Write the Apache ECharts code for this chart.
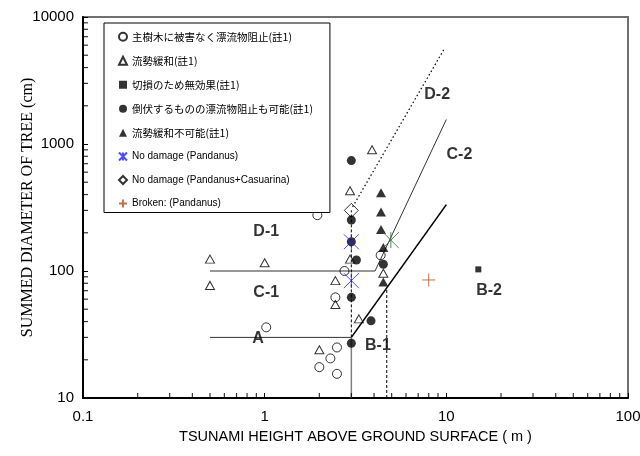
<!DOCTYPE html>
<html>
<head>
<meta charset="utf-8">
<script src="https://cdn.jsdelivr.net/npm/echarts@6/dist/echarts.min.js"></script>
<style>
  html, body { margin: 0; padding: 0; background: #fff; }
  #chart { width: 640px; height: 456px; }
</style>
</head>
<body>
<div id="chart"></div>
<script>
// --- data (x: tsunami height m, y: summed diameter cm) ---
const legendNames = [
  '主樹木に被害なく漂流物阻止(註1)',
  '流勢緩和(註1)',
  '切損のため無効果(註1)',
  '倒伏するものの漂流物阻止も可能(註1)',
  '流勢緩和不可能(註1)',
  'No damage (Pandanus)',
  'No damage (Pandanus+Casuarina)',
  'Broken: (Pandanus)'
];
const openCircle = [[1.02, 36], [2.75, 100], [2.45, 62], [2.5, 25], [2.3, 20.5], [2.0, 17.5], [2.5, 15.5], [1.95, 275], [4.35, 133]];
const openTriangle = [[0.5, 124], [0.5, 77], [1.0, 116], [2.45, 84], [2.45, 54.5], [2.95, 124], [3.3, 42], [2.0, 24], [2.95, 428], [3.9, 900], [4.5, 96]];
const filledSquare = [[15, 103]];
const filledCircle = [[3, 740], [3, 252], [3, 170], [3.2, 122], [3, 62], [3.85, 40.5], [3, 27], [4.5, 113]];
const filledTriangle = [[4.37, 414], [4.37, 292], [4.37, 212], [4.5, 153], [4.5, 82]];
const pandanus = [[3, 170], [3, 84]];
const pandanusCasuarina = [[3, 300]];
const brokenPandanus = [[8, 85]];
const extraStar = [[4.95, 175]];

// zone boundaries
const lineA = [[0.5, 30], [3, 30]];
const lineB = [[3, 30], [10, 333]];
const lineC = [[0.5, 100], [4.05, 100], [10, 1560]];
const lineD = [[3.05, 320], [9.8, 5700]];
const vertSolid = [[3, 10], [3, 30]];
const vertDash3 = [[3, 30], [3, 300]];
const vertDash47 = [[4.7, 10], [4.7, 73]];

const zoneLabels = [
  { name: 'D-2', value: [8.9, 2450] },
  { name: 'C-2', value: [11.8, 830] },
  { name: 'D-1', value: [1.02, 204] },
  { name: 'C-1', value: [1.02, 67] },
  { name: 'A', value: [0.92, 29.5] },
  { name: 'B-1', value: [4.2, 26] },
  { name: 'B-2', value: [17.2, 70] }
];

const xTicks = [0.1, 1, 10, 100];
const yTicks = [10, 100, 1000, 10000];
const xMinor = [0.2, 0.3, 0.4, 0.5, 0.6, 0.7, 0.8, 0.9, 2, 3, 4, 5, 6, 7, 8, 9, 20, 30, 40, 50, 60, 70, 80, 90];
const yMinor = [20, 30, 40, 50, 60, 70, 80, 90, 200, 300, 400, 500, 600, 700, 800, 900, 2000, 3000, 4000, 5000, 6000, 7000, 8000, 9000];

const starPath = 'path://M0,0L10,10M10,0L0,10M5,0L5,10';
const plusPath = 'path://M5,0L5,10M0,5L10,5';

function lineSeries(data, width, color, type) {
  return {
    type: 'line', data: data, symbol: 'none', silent: true, z: 1,
    lineStyle: { width: width, color: color, type: type || 'solid' }
  };
}

const chart = echarts.init(document.getElementById('chart'));
chart.setOption({
  animation: false,
  grid: {
    left: 83, right: 12, top: 17, bottom: 58, outerBoundsMode: 'none',
    show: true, borderColor: '#707070', borderWidth: 2
  },
  legend: {
    data: legendNames,
    orient: 'vertical',
    left: 104, top: 23,
    itemWidth: 8, itemHeight: 8, itemGap: 13.5,
    padding: [8.5, 17, 4, 14],
    borderColor: '#000', borderWidth: 1, backgroundColor: '#fff',
    formatter: function (n) {
      return /^[A-Z]/.test(n) ? '{en|' + n + '}' : '{ja|' + n + '}';
    },
    textStyle: {
      color: '#000',
      rich: {
        ja: { fontSize: 10.5, fontFamily: 'Noto Sans CJK JP', color: '#000' },
        en: { fontSize: 10, fontFamily: 'Liberation Sans', color: '#000' }
      }
    }
  },
  xAxis: {
    type: 'log', logBase: 10, min: xTicks[0], max: xTicks[xTicks.length - 1],
    name: 'TSUNAMI HEIGHT ABOVE GROUND SURFACE ( m )',
    nameLocation: 'middle', nameGap: 31, nameMoveOverlap: false,
    nameTextStyle: { fontSize: 14.5, fontFamily: 'Liberation Sans', color: '#000' },
    axisLine: { lineStyle: { color: '#000', width: 2 } },
    axisTick: { show: true, inside: true, length: 5, lineStyle: { color: '#000', width: 1 } },
    axisLabel: { fontSize: 15, fontFamily: 'Liberation Sans', color: '#000', margin: 11, formatter: v => String(v) },
    splitLine: { show: false }
  },
  yAxis: {
    type: 'log', logBase: 10, min: yTicks[0], max: yTicks[yTicks.length - 1],
    name: 'SUMMED DIAMETER OF TREE (cm)',
    nameLocation: 'middle', nameGap: 47, nameMoveOverlap: false,
    nameTextStyle: { fontSize: 16, fontFamily: 'Liberation Serif', color: '#000' },
    axisLine: { lineStyle: { color: '#000', width: 2 } },
    axisTick: { show: true, inside: true, length: 5, lineStyle: { color: '#000', width: 1 } },
    axisLabel: { fontSize: 15, fontFamily: 'Liberation Sans', color: '#000', margin: 9, formatter: v => String(v) },
    splitLine: { show: false }
  },
  series: [
    lineSeries(lineA, 1, '#333'),
    lineSeries(lineC, 1, '#333'),
    lineSeries(lineB, 1.6, '#000'),
    lineSeries(lineD, 1.2, '#000', [1.5, 2.5]),
    lineSeries(vertSolid, 1.5, '#808080'),
    lineSeries(vertDash3, 1, '#000', [3, 2]),
    lineSeries(vertDash47, 1, '#000', [3, 2]),
    // minor log ticks, pointing inward
    {
      type: 'scatter', silent: true, clip: false, z: 5, symbol: 'rect', symbolSize: [1.2, 5], symbolOffset: [0, -2.5],
      data: xMinor.map(v => [v, yTicks[0]]), itemStyle: { color: '#000' }
    },
    {
      type: 'scatter', silent: true, clip: false, z: 5, symbol: 'rect', symbolSize: [5, 1.2], symbolOffset: [2.5, 0],
      data: yMinor.map(v => [xTicks[0], v]), itemStyle: { color: '#000' }
    },
    {
      name: legendNames[0], type: 'scatter', data: openCircle, symbol: 'circle', symbolSize: 9,
      itemStyle: { color: 'transparent', borderColor: '#000', borderWidth: 1 }
    },
    {
      name: legendNames[1], type: 'scatter', data: openTriangle, symbol: 'triangle', symbolSize: [9, 8],
      itemStyle: { color: 'transparent', borderColor: '#000', borderWidth: 1 }
    },
    {
      name: legendNames[2], type: 'scatter', data: filledSquare, symbol: 'rect', symbolSize: 6,
      itemStyle: { color: '#000' }
    },
    {
      name: legendNames[3], type: 'scatter', data: filledCircle, symbol: 'circle', symbolSize: 9,
      itemStyle: { color: '#000' }
    },
    {
      name: legendNames[4], type: 'scatter', data: filledTriangle, symbol: 'triangle', symbolSize: [10, 9],
      itemStyle: { color: '#000' }
    },
    {
      name: legendNames[5], type: 'scatter', data: pandanus, symbol: starPath, symbolSize: 15,
      itemStyle: { color: 'transparent', borderColor: '#2020ff', borderWidth: 1 }
    },
    {
      name: legendNames[6], type: 'scatter', data: pandanusCasuarina, symbol: 'diamond', symbolSize: 14,
      itemStyle: { color: 'transparent', borderColor: '#000', borderWidth: 1 }
    },
    {
      name: legendNames[7], type: 'scatter', data: brokenPandanus, symbol: plusPath, symbolSize: 13,
      itemStyle: { color: 'transparent', borderColor: '#b0501c', borderWidth: 1 }
    },
    {
      name: 'extra', type: 'scatter', data: extraStar, symbol: starPath, symbolSize: 16,
      itemStyle: { color: 'transparent', borderColor: '#2f6b2f', borderWidth: 1 }
    },
    {
      name: 'labels', type: 'scatter', data: zoneLabels, symbolSize: 0, silent: true,
      label: {
        show: true, position: 'inside', formatter: '{b}',
        fontSize: 16, fontWeight: 'bold', fontFamily: 'Liberation Sans', color: '#000'
      }
    }
  ]
});
</script>
</body>
</html>
